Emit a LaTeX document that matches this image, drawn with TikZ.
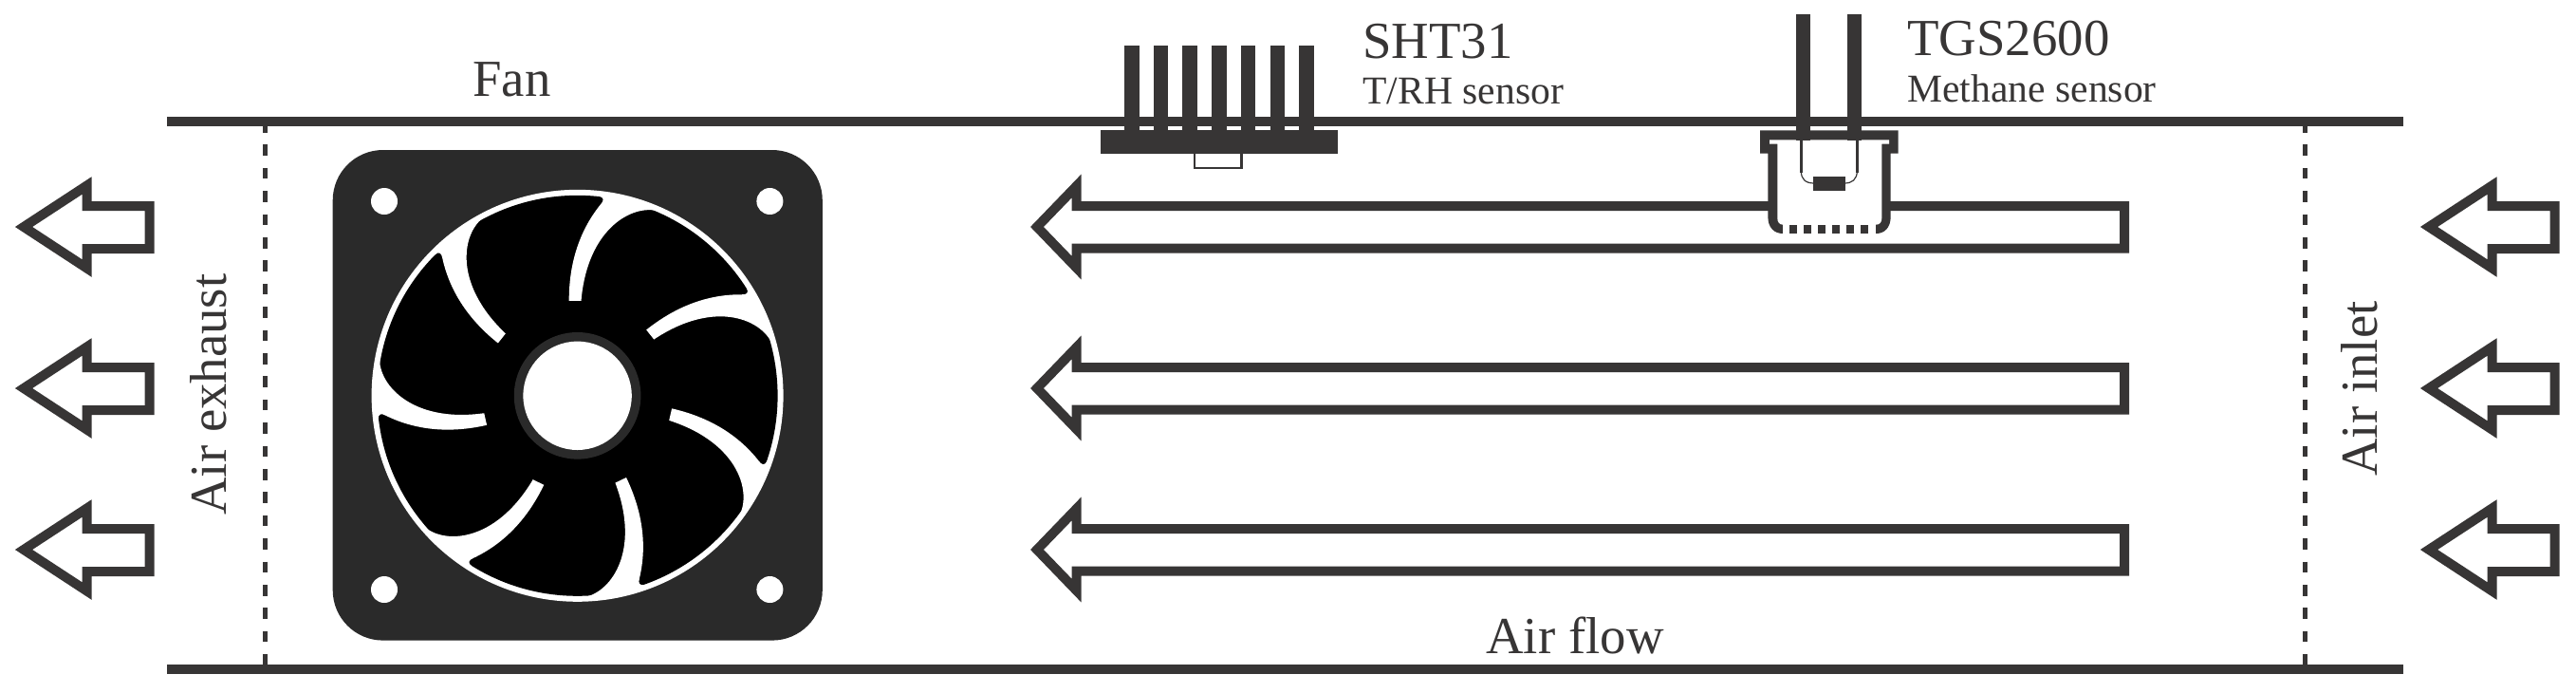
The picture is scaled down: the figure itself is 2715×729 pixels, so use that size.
\documentclass[tikz,border=0pt]{standalone}
\usepackage{fontspec}
\setmainfont{Liberation Serif}
\definecolor{duct_gray}{HTML}{373535}
\definecolor{fan_gray}{HTML}{2A2A2A}

\begin{document}
\begin{tikzpicture}[x=0.5pt,y=-0.5pt,
    duct_line/.style ={draw=duct_gray, line width=5pt},
    dash_line/.style ={draw=duct_gray, line width=2.5pt, dash pattern=on 5.75pt off 6.45pt},
    flow_arrow/.style ={draw=duct_gray, line width=5pt, fill=white, miter limit=20},
    pin_line/.style ={fill=duct_gray, draw=none},
    label_big/.style ={inner sep=0pt, text=duct_gray, font=\fontsize{27.4}{30}\selectfont},
    label_small/.style ={inner sep=0pt, text=duct_gray, font=\fontsize{20.8}{24}\selectfont}]
    \useasboundingbox (0,0) rectangle (2715,729);
    % duct walls and the two section lines
    \path[dash_line] (279,128) -- (279,705);
    \path[dash_line] (2429,128) -- (2429,705);
    \path[duct_line] (176,128.3) -- (2533,128.3);
    \path[duct_line] (176,705) -- (2533,705);
    % outside arrows, row by row
    \foreach \rowy in {239,409,579} {
      \foreach \dx in {0,2535} {
        \begin{scope}[shift={(\dx,\rowy)}]
          \path[flow_arrow] (25,0) -- (91.5,-43.5) -- (91.5,-22) -- (157.5,-22) -- (157.5,23)
            -- (91.5,23) -- (91.5,43.5) -- cycle;
        \end{scope}
      }
      \begin{scope}[shift={(0,\rowy)}]
        \path[flow_arrow] (1093,0) -- (1134.5,-43) -- (1134.5,-22) -- (2239,-22) -- (2239,22.5)
          -- (1134.5,22.5) -- (1134.5,43) -- cycle;
      \end{scope}
    }
    % fan frame
    \fill[fan_gray, rounded corners=26.5pt] (350.7,158) rectangle (866.8,674.6);
    \foreach \hx in {405,811.4} {
      \foreach \hy in {212,621} {
        \fill[white] (\hx,\hy) circle (7pt);
      }
    }
    % fan wheel, units of the scope are 1/2.8 px
    \begin{scope}[shift={(608.6,416.8)}, x=0.17857pt, y=0.17857pt]
      \fill[white] (0,0) circle (108.5pt);
      \fill[black] (0,0) circle (105.5pt);
      \foreach \k in {0,...,6} {
        \fill[white, rotate=-360/7*\k] (-25,280) .. controls (-25,380) and (0,480) .. (69,565)
          .. controls (78,575) and (80,585) .. (62,589) -- (150,585) -- (250,548)
          -- (247,542) .. controls (170,570) and (30,500) .. (11,280) -- cycle;
      }
      \fill[fan_gray] (0,0) circle (33.4pt);
      \fill[white] (0,0) circle (28.6pt);
    \end{scope}
    % SHT31 sensor
    \foreach \k in {0,...,6} {
      \path[pin_line] ({1185+30.7*\k},48.3) rectangle ({1200.5+30.7*\k},140);
    }
    \fill[duct_gray] (1160.3,137.3) rectangle (1410,161.7);
    \draw[duct_gray, line width=1.2pt, fill=white] (1259,161) rectangle (1308.5,177);
    % TGS2600 sensor
    \fill[duct_gray] (1855,137.3) -- (2000.7,137.3) -- (2000.7,161.7) -- (1992.7,161.7)
      -- (1992.7,228) .. controls (1992.7,240) and (1986,246) .. (1977.3,246)
      -- (1879.3,246) .. controls (1870,246) and (1863.3,240) .. (1863.3,228)
      -- (1863.3,161.7) -- (1855,161.7) -- cycle;
    \fill[white] (1865,147.3) -- (1991,147.3) -- (1991,151.7) -- (1983.3,151.7)
      -- (1983.3,230) .. controls (1983.3,234) and (1981,236.7) .. (1977.3,236.7)
      -- (1879.3,236.7) .. controls (1875.5,236.7) and (1873.3,234) .. (1873.3,230)
      -- (1873.3,151.7) -- (1865,151.7) -- cycle;
    \fill[white] (1879.3,236) rectangle (1977.3,246.5);
    \foreach \k in {0,...,5} {
      \path[pin_line] ({1885.7+15.07*\k},236.7) rectangle ({1894+15.07*\k},246);
    }
    \path[pin_line] (1893.3,15) rectangle (1908.3,147.5);
    \path[pin_line] (1947,15) rectangle (1962,147.5);
    \draw[duct_gray, line width=1.5pt] (1898.3,147) -- (1898.3,182);
    \draw[duct_gray, line width=1.5pt] (1957.3,147) -- (1957.3,182);
    \draw[duct_gray, line width=0.6pt] (1898.3,180) .. controls (1898.3,189) and (1903,193) .. (1912,193);
    \draw[duct_gray, line width=0.6pt] (1957.3,180) .. controls (1957.3,189) and (1952,193) .. (1944,193);
    \fill[duct_gray] (1911,185.7) rectangle (1945,201);
    % labels
    \node[label_big, anchor=base west] (fan_label) at (498,101.5) {Fan};
    \node[label_big, anchor=base west] (flow_label) at (1566,688) {Air flow};
    \node[label_big, anchor=base west] (sht_name) at (1436,61.5) {SHT31};
    \node[label_small, anchor=base west] (sht_type) at (1436,109.3) {T/RH sensor};
    \node[label_big, anchor=base west] (tgs_name) at (2010,58.5) {TGS2600};
    \node[label_small, anchor=base west] (tgs_type) at (2010,107.3) {Methane sensor};
    \node[label_big, anchor=base west, rotate=90] (exhaust_label) at (238,543) {Air exhaust};
    \node[label_big, anchor=base west, rotate=90] (inlet_label) at (2505,502) {Air inlet};
\end{tikzpicture}
\end{document}
